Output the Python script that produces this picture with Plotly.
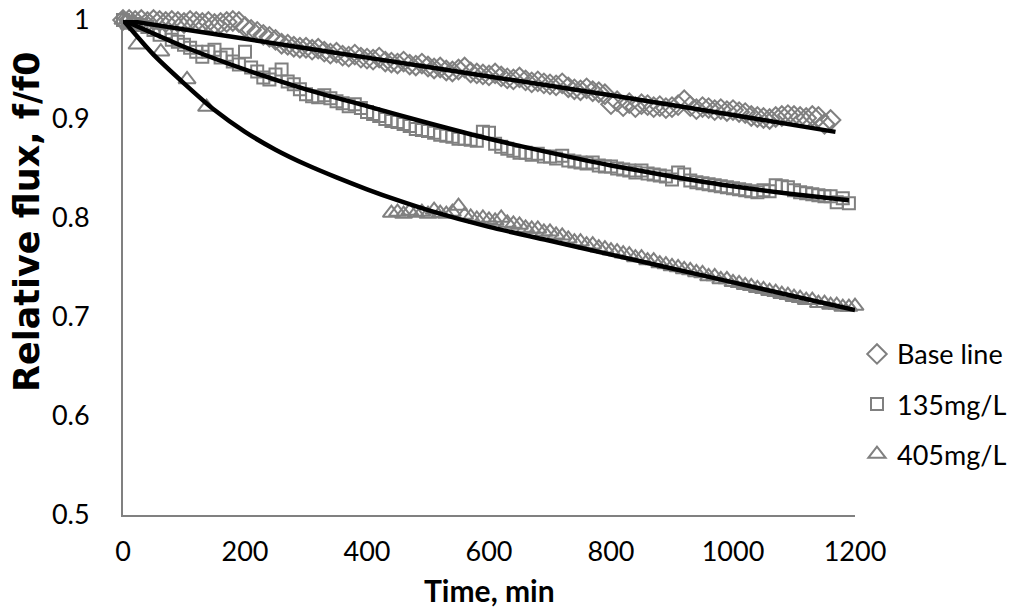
import plotly.graph_objects as go

# ---- data ----
base_t = [0, 10, 20, 30, 40, 50, 60, 70, 80, 90, 100, 110, 120, 130, 140, 150, 160, 170, 180, 190,
          200, 210, 220, 230, 240, 250, 260, 270, 280, 290, 300, 310, 320, 330, 340, 350, 360, 370, 380, 390,
          400, 410, 420, 430, 440, 450, 460, 470, 480, 490, 500, 510, 520, 530, 540, 550, 560, 570, 580, 590,
          600, 610, 620, 630, 640, 650, 660, 670, 680, 690, 700, 710, 720, 730, 740, 750, 760, 770, 780, 790,
          800, 810, 820, 830, 840, 850, 860, 870, 880, 890, 900, 910, 920, 930, 940, 950, 960, 970, 980, 990,
          1000, 1010, 1020, 1030, 1040, 1050, 1060, 1070, 1080, 1090, 1100, 1110, 1120, 1130, 1140, 1150, 1160]
base_f = [1.000, 1.000, 0.999, 1.000, 0.998, 1.000,
          0.999, 0.998, 0.999, 0.998, 0.997, 0.999, 0.998, 0.997, 0.998, 0.996, 0.997, 0.998, 0.999, 0.998,
          0.993, 0.990, 0.988, 0.985, 0.983, 0.980, 0.976, 0.975, 0.973, 0.972,
          0.972, 0.970, 0.971, 0.968, 0.966, 0.967, 0.964, 0.963, 0.965, 0.962,
          0.961, 0.960, 0.962, 0.958, 0.957, 0.956, 0.958, 0.955, 0.954, 0.956,
          0.953, 0.951, 0.952, 0.949, 0.948, 0.950, 0.952, 0.947, 0.946, 0.945,
          0.944, 0.946, 0.943, 0.941, 0.940, 0.942, 0.939, 0.937, 0.938, 0.936,
          0.935, 0.934, 0.936, 0.932, 0.930, 0.929, 0.931, 0.928, 0.927, 0.925,
          0.915, 0.918, 0.913, 0.916, 0.912, 0.915, 0.914, 0.912, 0.913, 0.911,
          0.912, 0.914, 0.919, 0.913, 0.910, 0.912, 0.911, 0.909, 0.910, 0.908,
          0.909, 0.907, 0.906, 0.903, 0.902, 0.901, 0.900, 0.902, 0.903, 0.904,
          0.903, 0.902, 0.901, 0.903, 0.902, 0.895, 0.899]

c135_t = [0, 10, 20, 30, 40, 50, 60, 70, 80, 90, 100, 110, 120, 130, 140, 150, 160, 170, 180, 190,
          200, 210, 220, 230, 240, 250, 260, 270, 280, 290, 300, 310, 320, 330, 340, 350, 360, 370, 380, 390,
          400, 410, 420, 430, 440, 450, 460, 470, 480, 490, 500, 510, 520, 530, 540, 550, 560, 570, 580, 590,
          600, 610, 620, 630, 640, 650, 660, 670, 680, 690, 700, 710, 720, 730, 740, 750, 760, 770, 780, 790,
          800, 810, 820, 830, 840, 850, 860, 870, 880, 890, 900, 910, 920, 930, 940, 950, 960, 970, 980, 990,
          1000, 1010, 1020, 1030, 1040, 1050, 1060, 1070, 1080, 1090, 1100, 1110, 1120, 1130, 1140, 1150, 1160,
          1170, 1180, 1190]
c135_f = [1.000, 0.998, 0.996, 0.995, 0.993, 0.990, 0.985, 0.988, 0.980, 0.978,
          0.975, 0.972, 0.968, 0.963, 0.968, 0.970, 0.962, 0.965, 0.958, 0.955,
          0.968, 0.952, 0.948, 0.942, 0.940, 0.945, 0.950, 0.938, 0.935, 0.930,
          0.925, 0.923, 0.922, 0.924, 0.921, 0.918, 0.916, 0.913, 0.915, 0.911,
          0.907, 0.905, 0.903, 0.900, 0.898, 0.897, 0.895, 0.893, 0.890, 0.889,
          0.888, 0.886, 0.884, 0.883, 0.882, 0.880, 0.880, 0.879, 0.878, 0.887,
          0.886, 0.875, 0.872, 0.870, 0.868, 0.866, 0.866, 0.864, 0.865, 0.862,
          0.862, 0.860, 0.863, 0.858, 0.857, 0.856, 0.855, 0.856, 0.853, 0.852,
          0.852, 0.850, 0.849, 0.848, 0.846, 0.848, 0.845, 0.844, 0.843, 0.842,
          0.839, 0.846, 0.844, 0.838, 0.836, 0.835, 0.834, 0.833, 0.832, 0.831,
          0.830, 0.829, 0.828, 0.827, 0.826, 0.828, 0.827, 0.833, 0.832, 0.831,
          0.828, 0.826, 0.825, 0.824, 0.823, 0.822, 0.822, 0.816, 0.820, 0.815]

c405_t = [0, 5, 10, 23, 62, 105, 137,
          440, 450, 460, 470, 480, 490, 500, 510, 520, 530,
          540, 550, 560, 570, 580, 590, 600, 610, 620, 630,
          640, 650, 660, 670, 680, 690, 700, 710, 720, 730,
          740, 750, 760, 770, 780, 790, 800, 810, 820, 830,
          840, 850, 860, 870, 880, 890, 900, 910, 920, 930,
          940, 950, 960, 970, 980, 990, 1000, 1010, 1020, 1030,
          1040, 1050, 1060, 1070, 1080, 1090, 1100, 1110, 1120, 1130,
          1140, 1150, 1160, 1170, 1180, 1190, 1200]
c405_f = [1.000, 0.998, 0.995, 0.975, 0.968, 0.940, 0.912,
          0.805, 0.806, 0.804, 0.807, 0.805, 0.806, 0.804, 0.808, 0.805, 0.804,
          0.806, 0.812, 0.803, 0.801, 0.799, 0.800, 0.798, 0.797, 0.800, 0.795,
          0.794, 0.793, 0.790, 0.789, 0.789, 0.786, 0.786, 0.783, 0.782, 0.779,
          0.776, 0.776, 0.773, 0.773, 0.770, 0.769, 0.767, 0.766, 0.764, 0.763,
          0.760, 0.760, 0.757, 0.757, 0.754, 0.753, 0.751, 0.750, 0.748, 0.747,
          0.745, 0.744, 0.741, 0.741, 0.738, 0.738, 0.735, 0.734, 0.732, 0.731,
          0.729, 0.728, 0.726, 0.725, 0.723, 0.722, 0.720, 0.719, 0.717, 0.717,
          0.714, 0.714, 0.712, 0.712, 0.710, 0.710, 0.711]

# fitted curves
fit_base_t = [0, 200, 400, 600, 800, 1000, 1168]
fit_base_f = [1.000, 0.981, 0.962, 0.943, 0.924, 0.904, 0.887]
fit_135_t = [0, 100, 200, 300, 400, 500, 600, 700, 800, 900, 1000, 1100, 1190]
fit_135_f = [1.000, 0.973, 0.950, 0.930, 0.913, 0.896, 0.880, 0.866, 0.853, 0.842, 0.832, 0.824, 0.818]
fit_405_t = [0, 50, 100, 150, 200, 250, 300, 350, 400, 450, 500, 600, 700, 800, 900, 1000, 1100, 1200]
fit_405_f = [1.000, 0.965, 0.936, 0.909, 0.887, 0.869, 0.854, 0.841, 0.829, 0.818, 0.808,
             0.791, 0.777, 0.763, 0.749, 0.735, 0.721, 0.707]

y_ticks = [0.5, 0.6, 0.7, 0.8, 0.9, 1]
x_ticks = [0, 200, 400, 600, 800, 1000, 1200]

FONT = "Lato"
GRAY = "#808080"

fig = go.Figure()

series = [
    ("Base line", base_t, base_f, "diamond-open", 15),
    ("135mg/L", c135_t, c135_f, "square-open", 12),
    ("405mg/L", c405_t, c405_f, "triangle-up-open", 15),
]
for i, (name, t, f, sym, sz) in enumerate(series):
    fig.add_trace(go.Scatter(
        x=t, y=f, mode="markers", name=name, legendgroup=f"g{i}",
        marker=dict(symbol=sym, size=sz, color=GRAY, line=dict(width=2, color=GRAY)),
        cliponaxis=False,
    ))

for t, f in [(fit_base_t, fit_base_f), (fit_135_t, fit_135_f), (fit_405_t, fit_405_f)]:
    fig.add_trace(go.Scatter(
        x=t, y=f, mode="lines", showlegend=False,
        line=dict(color="black", width=4.5, shape="spline", smoothing=0.6),
        cliponaxis=False,
    ))

# the page body has an 8px default margin, so the figure is drawn 8px in from the corner
fig.update_layout(
    width=1016, height=605,
    margin=dict(l=115, r=169, t=12, b=98),
    paper_bgcolor="white", plot_bgcolor="white",
    font=dict(family=FONT, size=27, color="black"),
    showlegend=True,
    legend=dict(x=1.0027, y=0.374, xanchor="left", yanchor="top",
                font=dict(family=FONT, size=27, color="black"),
                tracegroupgap=12, itemwidth=30, bgcolor="rgba(0,0,0,0)"),
    xaxis=dict(range=[0, 1200], tickvals=x_ticks, showgrid=False, zeroline=False,
               showline=True, linecolor=GRAY, linewidth=2, automargin=False,
               ticklabeloverflow="allow",
               ticks="outside", ticklen=12, tickcolor="rgba(0,0,0,0)"),
    yaxis=dict(range=[0.5, 1], tickvals=y_ticks, showgrid=False, zeroline=False,
               showline=True, linecolor=GRAY, linewidth=2, automargin=False,
               ticklabeloverflow="allow",
               ticks="outside", ticklen=26, tickcolor="rgba(0,0,0,0)"),
    annotations=[
        dict(text="<b>Time, min</b>", xref="paper", yref="paper", x=0.5, y=-0.1515,
             xanchor="center", yanchor="middle", showarrow=False,
             font=dict(family=FONT, size=30, color="black")),
        dict(text="<b>Relative flux, f/f0</b>", xref="paper", yref="paper", x=-0.1311, y=0.592,
             xanchor="center", yanchor="middle", showarrow=False, textangle=-90,
             font=dict(family="DejaVu Sans", size=35, color="black")),
    ],
)

fig.write_html("out.html")
